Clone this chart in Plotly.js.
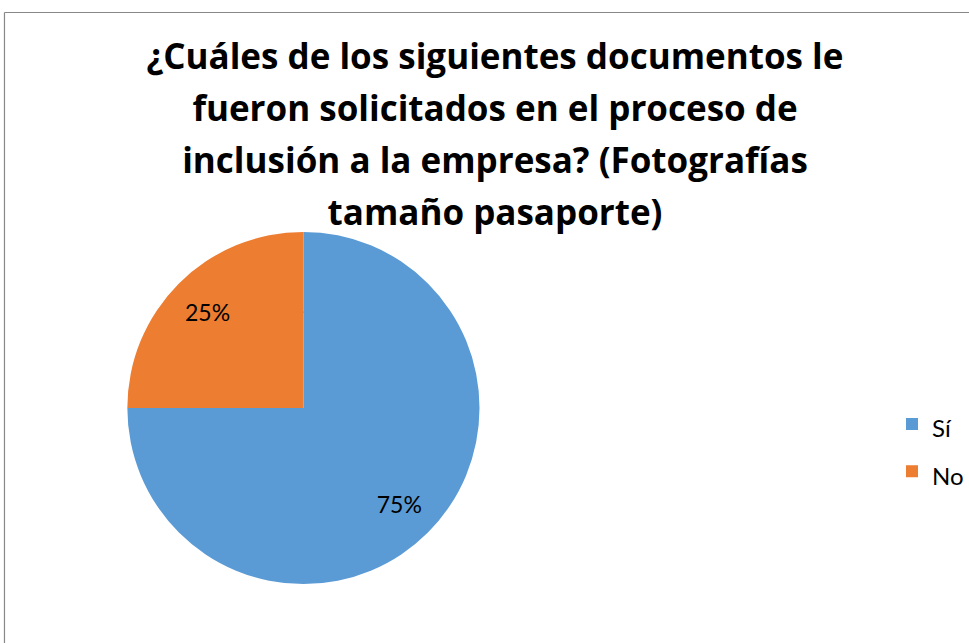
<!DOCTYPE html>
<html>
<head>
<meta charset="utf-8">
<script src="https://cdn.plot.ly/plotly-3.0.1.min.js"></script>
<style>
html,body{margin:0;padding:0;background:#fff;}
#chart{width:969px;height:643px;}
</style>
</head>
<body>
<div id="chart"></div>
<script>
const categories = ["Sí", "No"];
const values = [75, 25];
const colors = ["#5b9bd5", "#ed7d31"];
const titleLines = [
  "¿Cuáles de los siguientes documentos le",
  "fueron solicitados en el proceso de",
  "inclusión a la empresa? (Fotografías",
  "tamaño pasaporte)"
];

const W = 969, H = 643;
const cx = 305, cy = 408, R = 177, HOLE = 0.54;
const span = (s, px) => "<span style='font-size:" + px + "px'>" + s + "</span>";

const outer = {
  type: "pie",
  labels: categories.map(c => span(c, 24)),
  values: values,
  sort: false,
  direction: "clockwise",
  rotation: 0,
  hole: HOLE,
  marker: {colors: colors, line: {width: 0}},
  textinfo: "percent",
  texttemplate: "%{percent:.0%}",
  textposition: "inside",
  insidetextorientation: "horizontal",
  textfont: {family: "Lato, 'Open Sans', sans-serif", size: 23, color: "#000"},
  domain: {x: [(cx-R)/W, (cx+R)/W], y: [1-(cy+R)/H, 1-(cy-R)/H]},
  hoverinfo: "none"
};
const r2 = R*HOLE + 1.5;
const inner = {
  type: "pie",
  labels: categories.map(c => span(c, 24)),
  values: values,
  sort: false,
  direction: "clockwise",
  rotation: 0,
  marker: {colors: colors, line: {width: 0}},
  textinfo: "none",
  showlegend: false,
  domain: {x: [(cx-r2)/W, (cx+r2)/W], y: [1-(cy+r2)/H, 1-(cy-r2)/H]},
  hoverinfo: "none"
};
const layout = {
  width: W, height: H,
  margin: {l: 0, r: 0, t: 0, b: 0},
  paper_bgcolor: "#fff",
  title: {
    text: titleLines.map(l => span(l, 35)).join("<br>"),
    font: {family: "'Open Sans', Lato, sans-serif", size: 40, color: "#000", weight: "bold"},
    x: 495/W, xanchor: "center",
    y: 1-69/H, yanchor: "top"
  },
  showlegend: true,
  legend: {
    x: 897/W, xanchor: "left", y: 1-448/H, yanchor: "middle",
    font: {family: "Lato, 'Open Sans', sans-serif", size: 34, color: "#000"},
    itemwidth: 30
  },
  shapes: [
    {type: "line", xref: "paper", yref: "paper", x0: 4.5/W, x1: 1.01, y0: 1-12.5/H, y1: 1-12.5/H, line: {color: "#888", width: 1.2}},
    {type: "line", xref: "paper", yref: "paper", x0: 4.5/W, x1: 4.5/W, y0: 1-12.5/H, y1: -0.01, line: {color: "#888", width: 1.2}}
  ]
};
Plotly.newPlot("chart", [outer, inner], layout, {displayModeBar: false, staticPlot: true});
</script>
</body>
</html>
